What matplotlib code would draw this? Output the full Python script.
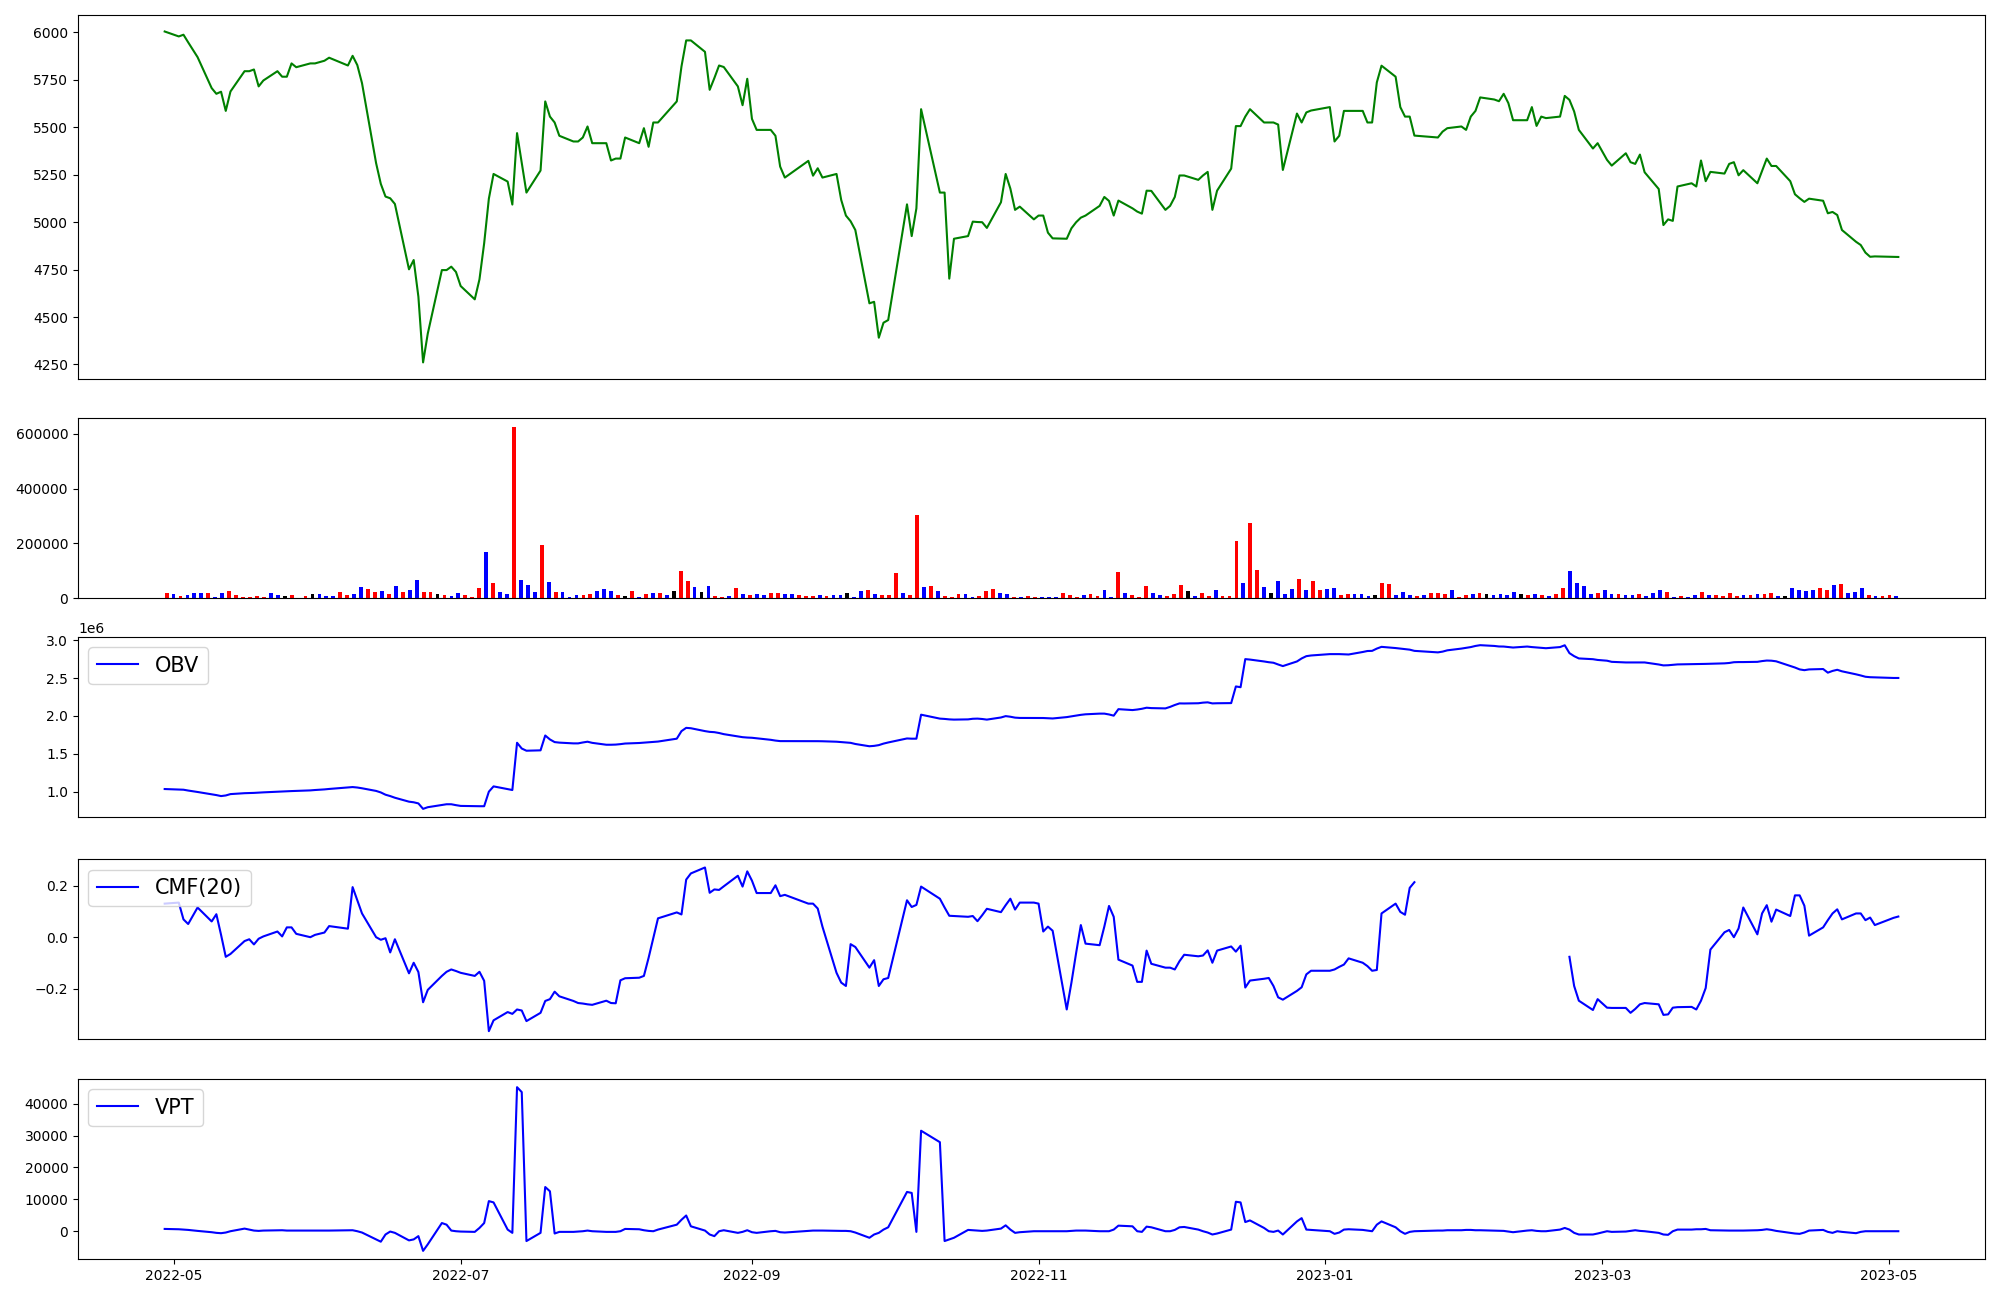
import numpy as np
import pandas as pd
import matplotlib
matplotlib.use("Agg")
import matplotlib.pyplot as plt


# trading days (KRX calendar)
holidays = ["2022-05-05", "2022-06-01", "2022-06-06", "2022-08-15", "2022-09-09",
            "2022-09-12", "2022-10-03", "2022-10-10", "2022-12-30", "2023-01-23",
            "2023-01-24", "2023-03-01", "2023-05-01"]
dates = pd.bdate_range("2022-04-29", "2023-05-03")
dates = dates[~dates.isin(pd.to_datetime(holidays))]

close = [6003, 5977, 5986, 5946, 5868, 5705, 5675, 5686, 5585, 5687,
         5794, 5794, 5803, 5714, 5745, 5794, 5765, 5765, 5835, 5815,
         5835, 5835, 5849, 5865, 5824, 5875, 5826, 5731, 5310, 5201,
         5134, 5125, 5095, 4751, 4800, 4607, 4261, 4413, 4747, 4747,
         4765, 4737, 4663, 4593, 4698, 4888, 5123, 5253, 5213, 5092,
         5468, 5310, 5155, 5271, 5635, 5555, 5524, 5454, 5424, 5424,
         5445, 5503, 5415, 5415, 5324, 5334, 5334, 5445, 5415, 5494,
         5396, 5524, 5524, 5635, 5819, 5956, 5956, 5896, 5696, 5758,
         5824, 5816, 5714, 5615, 5754, 5543, 5485, 5485, 5454, 5292,
         5234, 5322, 5244, 5283, 5234, 5253, 5116, 5034, 5004, 4958,
         4572, 4580, 4391, 4470, 4484, 5093, 4926, 5072, 5594, 5155,
         5155, 4702, 4912, 4926, 5002, 5000, 4999, 4969, 5104, 5253,
         5176, 5064, 5081, 5014, 5034, 5034, 4944, 4914, 4912, 4967,
         4999, 5023, 5034, 5085, 5132, 5111, 5034, 5113, 5072, 5055,
         5044, 5165, 5164, 5064, 5085, 5132, 5245, 5245, 5222, 5245,
         5264, 5064, 5165, 5281, 5505, 5505, 5555, 5594, 5524, 5524,
         5524, 5513, 5274, 5571, 5524, 5577, 5587, 5605, 5424, 5454,
         5585, 5585, 5585, 5524, 5524, 5735, 5823, 5765, 5605, 5555,
         5555, 5455, 5445, 5476, 5494, 5503, 5485, 5555, 5585, 5656,
         5645, 5636, 5675, 5626, 5536, 5536, 5605, 5506, 5555, 5547,
         5555, 5664, 5643, 5582, 5485, 5387, 5415, 5327, 5297, 5362,
         5315, 5306, 5355, 5262, 5174, 4984, 5014, 5006, 5187, 5204,
         5187, 5324, 5215, 5264, 5255, 5306, 5315, 5246, 5273, 5204,
         5269, 5334, 5295, 5295, 5215, 5146, 5125, 5106, 5123, 5112,
         5046, 5053, 5037, 4958, 4896, 4879, 4839, 4817, 4819, 4817,
         4816]

volume = [19000, 15700, 8400, 12000, 19300, 19300, 19300, 4800, 19300, 26500,
          12000, 4800, 4800, 8400, 4800, 19300, 12000, 8400, 12000, 1000,
          8400, 15700, 15700, 8400, 8400, 22900, 12000, 15700, 41000, 33700,
          22900, 26500, 15700, 44600, 22900, 30100, 66300, 22900, 22900, 15700,
          12000, 8400, 19300, 12000, 4800, 37400, 167500, 55400, 22900, 15700,
          626600, 66300, 48200, 22900, 192800, 59000, 22900, 22900, 4800, 12000,
          12000, 15700, 26500, 33700, 26500, 12000, 8400, 26500, 4800, 15700,
          19300, 19300, 12000, 26500, 98800, 62700, 41000, 22900, 44600, 8400,
          4800, 8400, 37400, 15700, 12000, 15700, 12000, 19300, 19300, 15700,
          15700, 12000, 8400, 8400, 12000, 8400, 12000, 12000, 19300, 4800,
          26500, 30100, 15700, 12000, 12000, 91600, 19300, 12000, 304900, 41000,
          44600, 26500, 8400, 4800, 15700, 15700, 4800, 8400, 26500, 33700,
          19300, 15700, 4800, 4800, 8400, 4800, 4800, 4800, 4800, 19300,
          12000, 4800, 12000, 15700, 8400, 30100, 4800, 95200, 19300, 12000,
          4800, 44600, 19300, 12000, 8400, 15700, 48200, 26500, 8400, 19300,
          8400, 30100, 8400, 8400, 207300, 55400, 272300, 102400, 41000, 19300,
          62700, 15700, 33700, 69900, 30100, 62700, 30100, 33700, 37400, 12000,
          15700, 15700, 15700, 8400, 12000, 55400, 51800, 12000, 22900, 12000,
          8400, 12000, 19300, 19300, 15700, 30100, 4800, 12000, 15700, 19300,
          15700, 12000, 15700, 12000, 22900, 15700, 12000, 15700, 12000, 8400,
          15700, 37400, 98800, 55400, 44600, 15700, 19300, 30100, 15700, 15700,
          12000, 12000, 15700, 8400, 19300, 30100, 22900, 4800, 8400, 4800,
          12000, 22900, 12000, 12000, 8400, 19300, 8400, 12000, 12000, 15700,
          15700, 19300, 8400, 8400, 36100, 28900, 25300, 28900, 36100, 28900,
          47000, 50600, 18000, 21700, 36100, 10800, 7200, 7200, 10800, 7200]

# r = up candle, b = down candle, k = unchanged
vol_dir = ("rbrbbbrbbr" "rrrrrbbkrr" "rkbbbrrbbr" "rbrbrbbrrk" "rbbrrrbrbb"
           "rbbbrbrbbb" "rrbbbrkrbr" "brbkrrbkbr" "rbrbrbbrrb" "brrrbrbbkb"
           "brbrrrbrrb" "rbrrrbbrrr" "bbrbrrbbbr" "rrbrrbbrbr" "rrbbrrrkbr"
           "rbrrrbrrbk" "bbbrbrrbbr" "rbbbkrrbbb" "rbrrrbrrbr" "kbbbbkrbrb"
           "rrbbbbrbbr" "bbrbbbrbrb" "brbrrrrbrb" "rrbkbbbbrr" "brbbbrbrrb")

obv_m = [1.035, 1.028, 1.026, 1.015, 0.996, 0.966, 0.955, 0.942, 0.950, 0.968,
         0.980, 0.982, 0.984, 0.988, 0.991, 1.000, 1.004, 1.006, 1.008, 1.010,
         1.017, 1.022, 1.030, 1.036, 1.055, 1.061, 1.055, 1.045, 1.010, 0.990,
         0.960, 0.942, 0.920, 0.868, 0.860, 0.845, 0.773, 0.795, 0.825, 0.834,
         0.834, 0.822, 0.812, 0.808, 0.808, 0.808, 1.000, 1.070, 1.035, 1.022,
         1.646, 1.570, 1.541, 1.546, 1.742, 1.690, 1.655, 1.648, 1.638, 1.638,
         1.650, 1.660, 1.645, 1.620, 1.620, 1.622, 1.628, 1.636, 1.643, 1.648,
         1.653, 1.659, 1.662, 1.700, 1.800, 1.843, 1.838, 1.800, 1.790, 1.786,
         1.775, 1.760, 1.730, 1.720, 1.715, 1.712, 1.705, 1.685, 1.675, 1.668,
         1.668, 1.668, 1.667, 1.667, 1.666, 1.660, 1.655, 1.650, 1.645, 1.630,
         1.600, 1.605, 1.615, 1.635, 1.650, 1.703, 1.700, 1.700, 2.017, 1.965,
         1.961, 1.955, 1.952, 1.955, 1.963, 1.965, 1.960, 1.952, 1.980, 1.998,
         1.990, 1.978, 1.974, 1.974, 1.974, 1.973, 1.970, 1.967, 1.985, 1.995,
         2.004, 2.015, 2.022, 2.031, 2.031, 2.020, 2.004, 2.090, 2.078, 2.085,
         2.095, 2.109, 2.104, 2.100, 2.120, 2.145, 2.166, 2.165, 2.168, 2.176,
         2.180, 2.166, 2.168, 2.170, 2.390, 2.380, 2.751, 2.745, 2.720, 2.710,
         2.703, 2.680, 2.659, 2.720, 2.760, 2.790, 2.799, 2.817, 2.817, 2.817,
         2.815, 2.812, 2.845, 2.858, 2.860, 2.890, 2.913, 2.897, 2.890, 2.882,
         2.876, 2.860, 2.840, 2.850, 2.867, 2.890, 2.900, 2.910, 2.925, 2.935,
         2.925, 2.918, 2.917, 2.910, 2.904, 2.917, 2.910, 2.905, 2.900, 2.895,
         2.910, 2.934, 2.830, 2.790, 2.760, 2.750, 2.740, 2.730, 2.715, 2.707,
         2.707, 2.707, 2.707, 2.707, 2.680, 2.668, 2.670, 2.675, 2.681, 2.684,
         2.686, 2.686, 2.688, 2.690, 2.695, 2.700, 2.710, 2.712, 2.712, 2.715,
         2.725, 2.732, 2.730, 2.722, 2.660, 2.640, 2.615, 2.605, 2.615, 2.620,
         2.572, 2.595, 2.610, 2.590, 2.550, 2.535, 2.518, 2.512, 2.510, 2.502,
         2.502]

nan = np.nan
cmf = [0.130, 0.134, 0.069, 0.051, 0.115, 0.061, 0.089, 0.009, -0.076, -0.065,
       -0.015, -0.008, -0.028, -0.006, 0.003, 0.022, 0.003, 0.038, 0.038, 0.013,
       0.000, 0.009, 0.018, 0.043, 0.033, 0.194, 0.143, 0.092, 0.000, -0.010,
       -0.004, -0.059, -0.008, -0.140, -0.099, -0.135, -0.252, -0.204, -0.150, -0.134,
       -0.125, -0.131, -0.138, -0.150, -0.134, -0.169, -0.364, -0.322, -0.290, -0.297,
       -0.280, -0.284, -0.325, -0.293, -0.247, -0.240, -0.211, -0.229, -0.247, -0.255,
       -0.257, -0.260, -0.262, -0.246, -0.255, -0.256, -0.167, -0.159, -0.157, -0.150,
       -0.080, -0.004, 0.073, 0.096, 0.088, 0.223, 0.247, 0.270, 0.172, 0.185,
       0.183, 0.197, 0.238, 0.196, 0.255, 0.219, 0.171, 0.171, 0.201, 0.159,
       0.164, 0.130, 0.130, 0.111, 0.041, -0.138, -0.176, -0.189, -0.027, -0.038,
       -0.118, -0.089, -0.189, -0.163, -0.158, 0.143, 0.117, 0.125, 0.196, 0.149,
       0.115, 0.083, 0.082, 0.079, 0.082, 0.062, 0.085, 0.110, 0.097, 0.124,
       0.149, 0.107, 0.134, 0.134, 0.130, 0.022, 0.041, 0.025, -0.280, -0.176,
       -0.061, 0.047, -0.025, -0.031, 0.041, 0.121, 0.079, -0.087, -0.110, -0.173,
       -0.173, -0.052, -0.103, -0.118, -0.118, -0.125, -0.093, -0.068, -0.074, -0.071,
       -0.051, -0.099, -0.052, -0.036, -0.056, -0.033, -0.195, -0.168, -0.161, -0.158,
       -0.189, -0.233, -0.242, -0.208, -0.194, -0.144, -0.130, -0.130, -0.125, -0.115,
       -0.106, -0.082, -0.099, -0.112, -0.130, -0.127, 0.092, 0.130, 0.098, 0.087,
       0.191, 0.213, nan, nan, nan, nan, nan, nan, nan, nan,
       nan, nan, nan, nan, nan, nan, nan, nan, nan, nan,
       nan, nan, -0.076, -0.189, -0.246, -0.282, -0.240, -0.273, -0.274, -0.274,
       -0.293, -0.278, -0.260, -0.255, -0.260, -0.301, -0.299, -0.273, -0.271, -0.270,
       -0.280, -0.246, -0.197, -0.048, 0.019, 0.028, 0.000, 0.034, 0.115, 0.011,
       0.092, 0.124, 0.060, 0.107, 0.082, 0.162, 0.162, 0.122, 0.006, 0.038,
       0.066, 0.092, 0.108, 0.069, 0.092, 0.092, 0.066, 0.076, 0.047, 0.075,
       0.080]

vpt = [718, 616, 513, 410, 103, -308, -513, -616, -410, 0,
       821, 513, 205, 103, 205, 308, 308, 205, 205, 205,
       205, 205, 205, 205, 308, 308, 0, -410, -2565, -3283,
       -1026, -103, -513, -2873, -2565, -1539, -6156, -4104, 2565, 2052,
       205, 0, -103, -205, 1026, 2565, 9439, 9029, 513, -513,
       45144, 43605, -3078, -513, 13851, 12517, -718, -205, -205, -103,
       0, 205, 0, -205, -205, -205, 0, 718, 616, 308,
       103, 0, 513, 2052, 3591, 4925, 1539, 205, -1026, -1539,
       0, 308, -513, -205, 308, -308, -513, 0, 103, -308,
       -410, 103, 205, 205, 205, 103, 103, 103, 0, -410,
       -2052, -1026, -513, 513, 1231, 12312, 12004, -205, 31498, 27907,
       -3078, -2565, -2052, 410, 308, 205, 103, 205, 821, 1847,
       513, -513, -308, 0, 0, 0, 0, 0, 0, 103,
       205, 205, 205, 0, 0, 0, 513, 1744, 1539, 0,
       -205, 1436, 1231, 0, 0, 410, 1231, 1334, 513, 0,
       -410, -1026, -718, 513, 9234, 9029, 2873, 3386, 1026, 0,
       -205, 205, -1026, 3078, 4104, 513, 410, 0, -821, -410,
       513, 616, 410, 205, 0, 2052, 3078, 1231, 0, -821,
       -205, 0, 205, 205, 308, 308, 410, 410, 308, 308,
       205, 205, 103, -103, -308, 205, 308, 103, 0, 0,
       513, 1026, 513, -513, -1026, -1026, -718, 0, -205, -103,
       103, 308, 103, 0, -513, -1026, -1129, 0, 513, 513,
       616, 616, 718, 308, 205, 205, 205, 205, 205, 308,
       410, 616, 410, 103, -513, -718, -821, -410, 205, 410,
       -205, -513, 0, -205, -616, -205, 0, 0, 0, 0,
       0]

colmap = {"r": "red", "b": "blue", "k": "black"}
bar_colors = [colmap[c] for c in vol_dir]
obv = np.array(obv_m) * 1e6

fig = plt.figure(figsize=(20, 13), dpi=100)
left, width = 0.039, 0.9535
ax1 = fig.add_axes([left, 0.7085, width, 0.28])
ax2 = fig.add_axes([left, 0.540, width, 0.1385])
ax3 = fig.add_axes([left, 0.3715, width, 0.1385])
ax4 = fig.add_axes([left, 0.2005, width, 0.1385])
ax5 = fig.add_axes([left, 0.0315, width, 0.1385])

ax1.plot(dates, close, color="green")
ax1.set_xticks([])

ax2.bar(np.arange(len(volume)), volume, width=0.55, color=bar_colors)
ax2.set_xticks([])

ax3.plot(dates, obv, color="blue", label="OBV")
ax3.legend(loc="upper left", fontsize=15)
ax3.set_xticks([])

ax4.plot(dates, cmf, color="blue", label="CMF(20)")
ax4.legend(loc="upper left", fontsize=15)
ax4.set_xticks([])

ax5.plot(dates, vpt, color="blue", label="VPT")
ax5.legend(loc="upper left", fontsize=15)

fig.savefig("out.png", dpi=100)
